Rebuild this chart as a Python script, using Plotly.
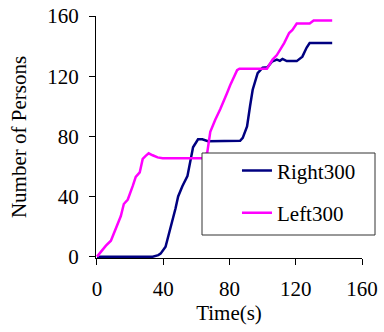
import plotly.graph_objects as go

# Data
right_t = [0, 33.6, 37, 38.4, 41.4, 43, 45.6, 47.4, 49, 51.6, 54.6, 56.4, 58, 61, 63.6, 67,
           86.4, 88, 90.6, 92.4, 94, 97, 100, 103, 105.6, 108.6, 110.4, 112, 114.6, 120.6,
           124, 126.6, 128.4, 142]
right_n = [0, 0, 1, 2, 6.6, 13, 23, 32, 40, 47, 53.5, 63.5, 72.7, 78, 78, 76.7,
           77, 79, 86.6, 100, 111, 122, 125.6, 126, 129.6, 131, 130.2, 131.5, 130, 130,
           133, 139, 142, 142]

left_t = [0, 2.4, 5.4, 8.4, 11.4, 14.4, 16.2, 18.6, 21.6, 23.4, 25.8, 27.6, 29.4, 31.2,
          33.6, 36.6, 39.6, 63.6, 66.6, 68.4, 71.4, 74.4, 78.6, 80.4, 84.6, 86, 102.6,
          106, 108.6, 113, 116, 118, 120.6, 128.4, 130.8, 142]
left_n = [0, 3.3, 7.3, 10.6, 18.5, 27, 35, 38, 47, 53, 56, 65, 67, 68.7,
          67.4, 66, 65.4, 65.4, 69.4, 83, 91, 98, 109, 114, 124, 125, 125,
          131, 134, 142, 148.7, 150.7, 155, 155, 157, 157]

x_ticks = [0, 40, 80, 120, 160]
y_ticks = [0, 40, 80, 120, 160]
series_names = ["Right300", "Left300"]
series_colors = ["#000080", "#FF00FF"]

FONT = dict(family="Liberation Serif", size=21, color="black")

fig = go.Figure()
fig.add_trace(go.Scatter(x=right_t, y=right_n, mode="lines", name=series_names[0],
                         line=dict(color=series_colors[0], width=2.5), legendgroup="a"))
fig.add_trace(go.Scatter(x=left_t, y=left_n, mode="lines", name=series_names[1],
                         line=dict(color=series_colors[1], width=2.5), legendgroup="b"))

xr = [-0.6, 160]
yr = [-0.9, 160]

fig.update_layout(
    width=384, height=332,
    margin=dict(l=96, r=22, t=16, b=74),
    paper_bgcolor="white", plot_bgcolor="white",
    font=FONT,
    xaxis=dict(range=xr, tickvals=x_ticks, ticks="outside", ticklen=6, tickwidth=1,
               tickcolor="black", showline=True, linecolor="black", linewidth=1,
               showgrid=False, zeroline=False, ticklabelstandoff=6, automargin=False,
               tickfont=FONT,
               title=dict(text="Time(s)", standoff=0, font=FONT)),
    yaxis=dict(range=yr, tickvals=y_ticks, ticks="outside", ticklen=6, tickwidth=1,
               tickcolor="black", showline=True, linecolor="black", linewidth=1,
               showgrid=False, zeroline=False, ticklabelstandoff=6, automargin=False,
               tickfont=FONT,
               title=dict(text="Number of Persons", standoff=14, font=FONT)),
    xaxis2=dict(range=xr, tickvals=x_ticks, ticks="inside", ticklen=6, tickcolor="black",
                overlaying="x", showticklabels=False, showline=False, showgrid=False,
                zeroline=False),
    yaxis2=dict(range=yr, tickvals=y_ticks, ticks="inside", ticklen=6, tickcolor="black",
                overlaying="y", showticklabels=False, showline=False, showgrid=False,
                zeroline=False),
    showlegend=True,
    legend=dict(x=0.53, y=0.445, xanchor="left", yanchor="top", bgcolor="rgba(0,0,0,0)",
                borderwidth=0, font=FONT, traceorder="grouped", tracegroupgap=12),
    shapes=[dict(type="rect", xref="paper", yref="paper",
                 x0=(202 - 96) / 266, x1=(375 - 96) / 266,
                 y0=(258 - 235) / 242, y1=(258 - 153) / 242,
                 line=dict(color="#333333", width=1), fillcolor="white", layer="above")],
)

fig.write_html("out.html")
